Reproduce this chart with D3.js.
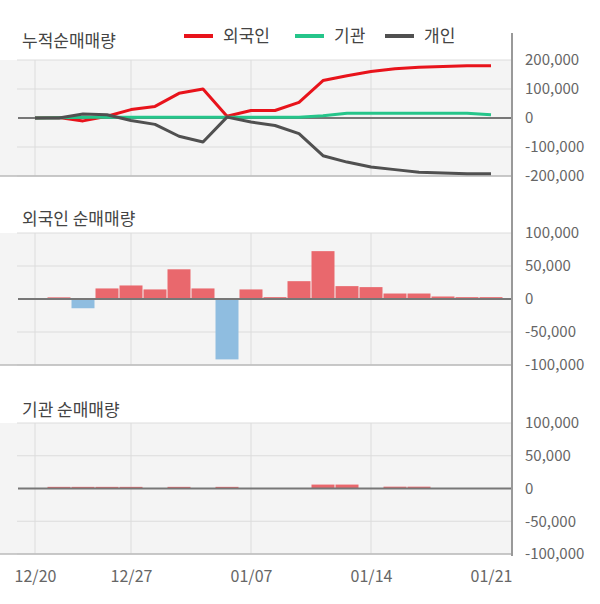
<!DOCTYPE html>
<html><head><meta charset="utf-8">
<script src="https://cdn.jsdelivr.net/npm/d3@7"></script>
<style>body{margin:0;background:#fff;} svg{display:block;font-family:"Noto Sans CJK KR","Noto Sans",sans-serif;}</style>
</head><body>
<svg id="c" width="600" height="604"></svg>
<script>
const dates = ["12/20","12/23","12/24","12/26","12/27","12/30","01/02","01/03","01/06","01/07","01/08","01/09","01/10","01/13","01/14","01/15","01/16","01/17","01/20","01/21"];
const xTickLabels = ["12/20","12/27","01/07","01/14","01/21"];
const gridDates = ["12/20","12/27","01/07","01/14"];
// cumulative net buying
const cumForeign = [0,2000,-10000,6000,29000,40000,85000,100000,6000,26000,26000,54000,129000,146000,160000,170000,175000,178000,180000,180000];
const cumInst    = [0,1000,2500,3000,3000,3000,3000,3000,3000,3000,3000,3000,8000,16000,16000,16000,16000,16000,16000,11000];
const cumIndiv   = [0,0,14000,11000,-8500,-22000,-63000,-83000,3000,-14000,-26000,-54000,-130000,-152000,-169000,-178000,-187000,-190000,-192000,-192000];
// daily net buying
const dailyForeign = [0,2500,-14000,16000,20500,14500,45000,16000,-91500,14500,2800,27000,72500,19500,18000,8300,8300,3800,2800,2800];
const dailyInst    = [0,2500,2500,2500,2500,0,2500,0,2500,0,0,0,6000,6000,0,2800,2800,0,0,0];
const cumTicks = [200000,100000,0,-100000,-200000];
const dayTicks = [100000,50000,0,-50000,-100000];

const svg = d3.select("#c");
const AX = 512;
const x = d3.scalePoint().domain(dates).range([35, 491]);
const fmt = v => d3.format(",")(v).replace("\u2212","-");
const txt = "#666";
const tickFont = "'Noto Sans CJK KR','Noto Sans',sans-serif";

function panel(top, bottom, domain, ticks, title, titleY) {
  const y = d3.scaleLinear().domain(domain).range([bottom, top]);
  const g = svg.append("g");
  g.append("rect").attr("x",0).attr("y",top).attr("width",AX).attr("height",bottom-top).attr("fill","#f4f4f4");
  ticks.forEach(t => {
    if (t !== 0) g.append("line").attr("x1",17).attr("x2",AX).attr("y1",y(t)).attr("y2",y(t)).attr("stroke","#dcdcdc").attr("stroke-width",1);
  });
  gridDates.forEach(d => {
    g.append("line").attr("x1",x(d)).attr("x2",x(d)).attr("y1",top).attr("y2",bottom).attr("stroke","#dcdcdc").attr("stroke-width",1);
  });
  g.append("line").attr("x1",0).attr("x2",AX).attr("y1",bottom).attr("y2",bottom).attr("stroke","#bbb").attr("stroke-width",1.5);
  const ax = d3.axisRight(y).tickValues(ticks).tickFormat(fmt).tickSize(0).tickPadding(13);
  const a = g.append("g").attr("transform",`translate(${AX},0)`).call(ax);
  a.select(".domain").remove();
  a.selectAll("text").attr("fill",txt).style("font-size","15px").style("font-family",tickFont);
  svg.append("text").attr("x",22).attr("y",titleY).text(title).attr("fill","#444").style("font-size","17px");
  return {g, y};
}

// Top panel
const p1 = panel(60, 176, [-200000,200000], cumTicks, "누적순매매량", 47);
p1.g.append("line").attr("x1",18).attr("x2",AX).attr("y1",p1.y(0)).attr("y2",p1.y(0)).attr("stroke","#777").attr("stroke-width",2);
const series = [
  {name:"외국인", vals:cumForeign, color:"#e8131b"},
  {name:"기관", vals:cumInst, color:"#25c58a"},
  {name:"개인", vals:cumIndiv, color:"#505050"}
];
series.forEach(s => {
  const line = d3.line().x((d,i)=>x(dates[i])).y(d=>p1.y(d));
  p1.g.append("path").datum(s.vals).attr("d",line).attr("fill","none").attr("stroke",s.color).attr("stroke-width",3).attr("stroke-linejoin","round");
});
// legend
const legX = [184, 295, 385];
series.forEach((s,i) => {
  svg.append("line").attr("x1",legX[i]).attr("x2",legX[i]+29).attr("y1",36).attr("y2",36).attr("stroke",s.color).attr("stroke-width",4);
  svg.append("text").attr("x",legX[i]+39).attr("y",42).text(s.name).attr("fill","#444").style("font-size","17px");
});

// bar panels
function bars(p, vals) {
  const w = 23;
  const data = vals.map((v,i)=>({d:dates[i], v})).filter(o => o.v !== 0);
  p.g.selectAll("rect.bar").data(data).enter().append("rect").attr("class","bar")
    .attr("x", o => x(o.d) - w/2).attr("width", w)
    .attr("y", o => p.y(Math.max(0,o.v))).attr("height", o => Math.abs(p.y(o.v)-p.y(0)))
    .attr("fill", o => o.v > 0 ? "#e9686d" : "#8fbde0");
  p.g.append("line").attr("x1",18).attr("x2",AX).attr("y1",p.y(0)).attr("y2",p.y(0)).attr("stroke","#777").attr("stroke-width",2);
}
const p2 = panel(233, 365, [-100000,100000], dayTicks, "외국인 순매매량", 225);
bars(p2, dailyForeign);
const p3 = panel(423, 554, [-100000,100000], dayTicks, "기관 순매매량", 416);
bars(p3, dailyInst);

// right axis line
svg.append("line").attr("x1",AX).attr("x2",AX).attr("y1",33).attr("y2",556).attr("stroke","#999").attr("stroke-width",2);

// x axis labels
const xa = d3.axisBottom(x).tickValues(xTickLabels).tickSize(0).tickPadding(0);
const xg = svg.append("g").attr("transform","translate(0,571)").call(xa);
xg.select(".domain").remove();
xg.selectAll("text").attr("fill",txt).style("font-size","16px").style("font-family",tickFont);
</script>
</body></html>
